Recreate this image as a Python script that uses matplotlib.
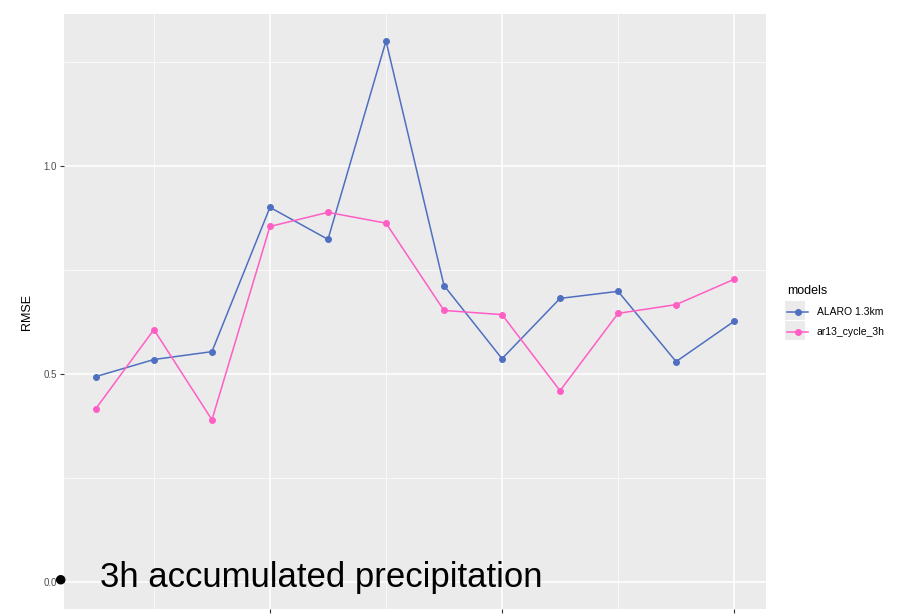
import matplotlib
matplotlib.use("Agg")
import matplotlib.pyplot as plt
from matplotlib.lines import Line2D
from matplotlib.patches import Rectangle

# lead time (h) and RMSE per model
lead_h = [3, 6, 9, 12, 15, 18, 21, 24, 27, 30, 33, 36]
alaro = [0.494, 0.535, 0.554, 0.901, 0.824, 1.301, 0.713, 0.537, 0.682, 0.699, 0.530, 0.627]
ar13 = [0.417, 0.607, 0.390, 0.855, 0.889, 0.863, 0.653, 0.643, 0.460, 0.646, 0.667, 0.728]
models = ["ALARO 1.3km", "ar13_cycle_3h"]
colors = ["#4F6FC0", "#FF5EC4"]
x_breaks = [12, 24, 36]
y_breaks = [0.0, 0.5, 1.0]

W, H = 903, 616
plt.rcParams["font.family"] = ["Liberation Sans", "DejaVu Sans"]
fig = plt.figure(figsize=(W / 100, H / 100), dpi=100)
ax = fig.add_axes([64 / W, 1 - 609 / H, (766 - 64) / W, (609 - 14) / H])
ax.set_facecolor("#EBEBEB")
for s in ax.spines.values():
    s.set_visible(False)

# ggplot-like limits (5% expansion, y expanded to include 0)
xr = max(lead_h) - min(lead_h)
ax.set_xlim(min(lead_h) - 0.05 * xr, max(lead_h) + 0.05 * xr)
ymax = max(max(alaro), max(ar13))
ax.set_ylim(-0.05 * ymax, ymax * 1.05)

ax.set_xticks(x_breaks)
ax.set_xticklabels([str(v) for v in x_breaks])
ax.set_xticks([6, 18, 30], minor=True)
ax.set_yticks(y_breaks)
ax.set_yticklabels([f"{v:.1f}" for v in y_breaks])
ax.set_yticks([0.25, 0.75, 1.25], minor=True)
ax.grid(which="major", color="white", lw=1.1)
ax.grid(which="minor", color="white", lw=0.5)
ax.set_axisbelow(True)
ax.tick_params(which="major", length=3, color="#333333", labelsize=7, labelcolor="#4D4D4D", pad=2)
ax.tick_params(which="minor", length=0)
ax.set_ylabel("RMSE", fontsize=9, labelpad=8)

for vals, c in zip([alaro, ar13], colors):
    ax.plot(lead_h, vals, color=c, lw=1.1, marker="o", ms=4, zorder=3)

# legend key backgrounds (ggplot style)
for top in (301, 321):
    fig.add_artist(Rectangle((785 / W, 1 - (top + 19) / H), 20 / W, 19 / H,
                             transform=fig.transFigure, facecolor="#EBEBEB",
                             edgecolor="none", zorder=0))

handles = [Line2D([], [], color=c, lw=1.1, marker="o", ms=4) for c in colors]
leg = fig.legend(handles, models, title="models", loc="upper left",
                 bbox_to_anchor=(778 / W, 1 - 276 / H), frameon=False,
                 fontsize=7.5, title_fontsize=9, handlelength=2.0,
                 labelspacing=0.95, alignment="left")

# bullet overlay text
fig.text(53 / W, 1 - 580 / H, "\u25CF", fontsize=16, va="center", ha="left")
fig.text(100 / W, 1 - 577 / H, "3h accumulated precipitation", fontsize=25,
         va="center", ha="left")

fig.savefig("out.png", dpi=100)
